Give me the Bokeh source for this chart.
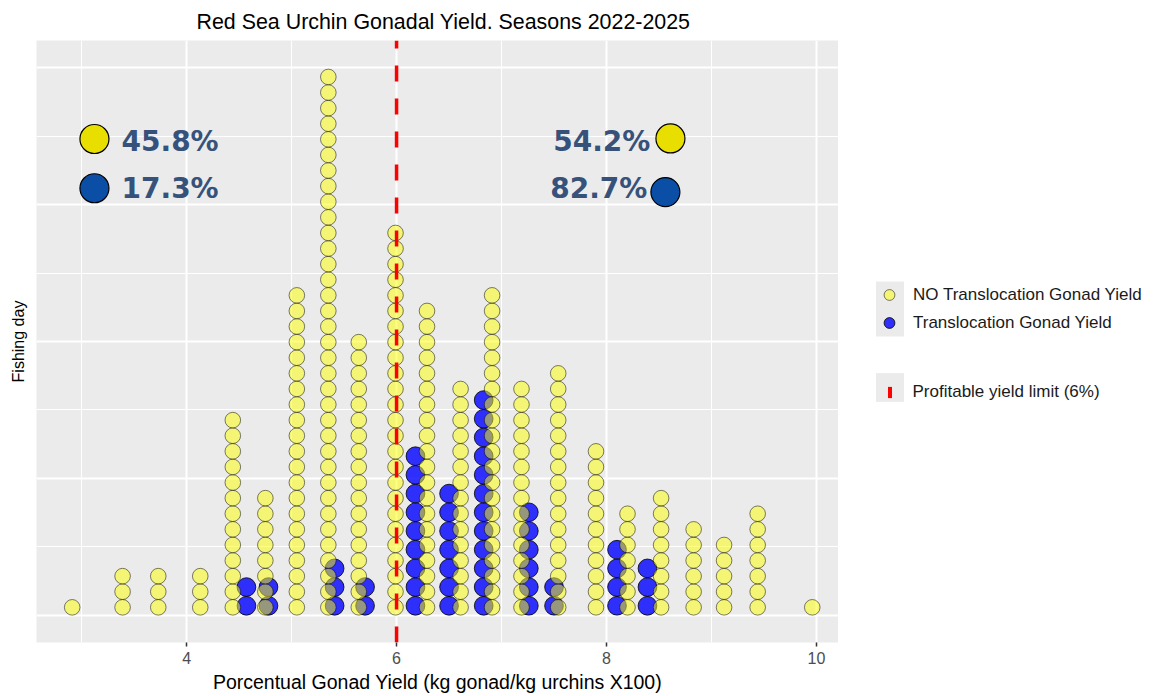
from bokeh.plotting import figure
from bokeh.layouts import row
from bokeh.models import FixedTicker, Legend, LegendItem, Range1d
from bokeh.core.properties import value
from bokeh.embed import file_html
from bokeh.resources import INLINE

# ---------------- data ----------------
TITLE = "Red Sea Urchin Gonadal Yield. Seasons 2022-2025"
X_LABEL = "Porcentual Gonad Yield (kg gonad/kg urchins X100)"
Y_LABEL = "Fishing day"

NO_TRANS_LABEL = "NO Translocation Gonad Yield"
NO_TRANS_BINS = [2.91, 3.39, 3.73, 4.13, 4.44, 4.75, 5.05, 5.35, 5.64, 5.99, 6.29,
                 6.61, 6.91, 7.19, 7.54, 7.90, 8.20, 8.52, 8.83, 9.12, 9.44, 9.96]
NO_TRANS_COUNTS = [1, 3, 3, 3, 13, 8, 21, 35, 18, 25, 20,
                   15, 21, 15, 16, 11, 7, 8, 6, 5, 7, 1]

TRANS_LABEL = "Translocation Gonad Yield"
TRANS_BINS = [4.57, 4.78, 5.41, 5.70, 6.18, 6.50, 6.83, 7.26, 7.50, 8.10, 8.39]
TRANS_COUNTS = [2, 2, 3, 2, 9, 7, 12, 6, 2, 4, 3]

LIMIT_LABEL = "Profitable yield limit (6%)"
PROFIT_LIMIT = 6.0

X_TICKS = [4, 6, 8, 10]
X_MINOR = [3, 5, 7, 9]
Y_TICKS = [0, 0.25, 0.5, 0.75, 1.0]
Y_MINOR = [0.125, 0.375, 0.625, 0.875]

SHARE_BELOW = ["45.8%", "17.3%"]   # share of yields below the limit (NO transl., transl.)
SHARE_ABOVE = ["54.2%", "82.7%"]   # share of yields above the limit

# ---------------- styles / layout ----------------
FONT = "Liberation Sans"
TOTAL_W, TOTAL_H = 1156, 694
LEFT, TOP = 36, 40
FRAME_W, FRAME_H = 802, 602
MAIN_W = LEFT + FRAME_W
LEG_W = TOTAL_W - MAIN_W
FRAME_BOTTOM = TOP + FRAME_H
X_RANGE = (2.57, 10.21)
Y_RANGE = (-0.05, 1.05)
Y_PX = FRAME_H / (Y_RANGE[1] - Y_RANGE[0])
YELLOW_D = 15.6
BLUE_D = 18.7
NAN = float("nan")

YELLOW_STYLE = dict(marker="circle", fill_color="yellow", fill_alpha=0.5,
                    line_color="black", line_alpha=0.5, line_width=1)
BLUE_STYLE = dict(marker="circle", fill_color="blue", fill_alpha=0.8,
                  line_color="black", line_alpha=0.8, line_width=1)


def stack(bins, counts, d_px):
    xs, ys = [], []
    for b, n in zip(bins, counts):
        for i in range(n):
            xs.append(b)
            ys.append((i + 0.5) * d_px / Y_PX)
    return xs, ys


p = figure(frame_width=FRAME_W, frame_height=FRAME_H,
           x_range=Range1d(*X_RANGE), y_range=Range1d(*Y_RANGE),
           output_backend="svg", toolbar_location=None,
           min_border_left=LEFT, min_border_right=0,
           min_border_top=TOP, min_border_bottom=40,
           background_fill_color="#EBEBEB", border_fill_color="white",
           outline_line_color=None, title=TITLE)

p.title.align = "left"
p.title.offset = 160
p.title.text_font = FONT
p.title.text_font_size = "21.4px"
p.title.text_font_style = "normal"
p.title.text_color = "black"
p.title.standoff = 14

# axes
xa = p.xaxis[0]
xa.ticker = FixedTicker(ticks=X_TICKS, minor_ticks=X_MINOR)
xa.axis_label = X_LABEL
xa.axis_label_text_font = FONT
xa.axis_label_text_font_size = "19.5px"
xa.axis_label_text_font_style = "normal"
xa.axis_label_text_color = "black"
xa.axis_label_standoff = 4
xa.major_label_text_font = FONT
xa.major_label_text_font_size = "16px"
xa.major_label_text_color = "#4D4D4D"
xa.major_label_standoff = 5
xa.major_tick_out = 4
xa.major_tick_in = 0
xa.major_tick_line_color = "#333333"
xa.major_tick_line_width = 1.5
xa.minor_tick_out = 0
xa.minor_tick_in = 0
xa.axis_line_color = None

ya = p.yaxis[0]
ya.ticker = FixedTicker(ticks=[], minor_ticks=[])
ya.axis_label = Y_LABEL
ya.axis_label_text_font = FONT
ya.axis_label_text_font_size = "16px"
ya.axis_label_text_font_style = "normal"
ya.axis_label_text_color = "black"
ya.axis_label_standoff = 10
ya.major_tick_out = 0
ya.major_tick_in = 0
ya.minor_tick_out = 0
ya.minor_tick_in = 0
ya.axis_line_color = None

p.xgrid[0].ticker = FixedTicker(ticks=X_TICKS, minor_ticks=X_MINOR)
p.ygrid[0].ticker = FixedTicker(ticks=Y_TICKS, minor_ticks=Y_MINOR)
for g in (p.xgrid[0], p.ygrid[0]):
    g.grid_line_color = "white"
    g.grid_line_width = 2
    g.minor_grid_line_color = "white"
    g.minor_grid_line_width = 1

# dot stacks
bx, by = stack(TRANS_BINS, TRANS_COUNTS, BLUE_D)
p.scatter(x=bx, y=by, size=BLUE_D, **BLUE_STYLE)
yx, yy = stack(NO_TRANS_BINS, NO_TRANS_COUNTS, YELLOW_D)
p.scatter(x=yx, y=yy, size=YELLOW_D, **YELLOW_STYLE)

# profitable limit line
LIMIT_COLOR = "#FF0000"
p.segment(x0=[PROFIT_LIMIT], y0=[Y_RANGE[0]], x1=[PROFIT_LIMIT], y1=[Y_RANGE[1]],
          line_color=LIMIT_COLOR, line_width=3.5, line_dash="16 17")

# share annotations
ANN_YELLOW = "#E8DF00"
ANN_BLUE = "#0B4EA6"
ANN_TEXT = "#37527A"
p.scatter(x=[3.122, 3.122], y=[0.870, 0.780], size=29, marker="circle",
          fill_color=[ANN_YELLOW, ANN_BLUE], line_color="black", line_width=1.2)
p.text(x=[3.38, 3.38], y=[0.866, 0.780], text=SHARE_BELOW,
       text_font=value("DejaVu Sans"), text_font_style="bold", text_font_size="28px",
       text_color=ANN_TEXT, text_align="left", text_baseline="middle")
p.text(x=[8.418, 8.389], y=[0.866, 0.779], text=SHARE_ABOVE,
       text_font=value("DejaVu Sans"), text_font_style="bold", text_font_size="28px",
       text_color=ANN_TEXT, text_align="right", text_baseline="middle")
p.scatter(x=[8.609, 8.561], y=[0.871, 0.773], size=29, marker="circle",
          fill_color=[ANN_YELLOW, ANN_BLUE], line_color="black", line_width=1.2)

# ---------------- legend panel (separate figure on the right) ----------------
lg = figure(width=LEG_W, height=TOTAL_H, x_range=Range1d(0, 1), y_range=Range1d(0, 1),
            x_axis_type=None, y_axis_type=None, output_backend="svg",
            toolbar_location=None, outline_line_color=None,
            background_fill_color="white", border_fill_color="white",
            min_border_left=0, min_border_right=0, min_border_top=0, min_border_bottom=0)
lg.xgrid.visible = False
lg.ygrid.visible = False

# legend proxies: one undrawable (NaN) point each, so the legend can draw their keys
bg_r = lg.quad(left=[NAN], right=[NAN], top=[NAN], bottom=[NAN],
               fill_color="#EBEBEB", line_color=None)
red_r = lg.quad(left=[NAN], right=[NAN], top=[NAN], bottom=[NAN],
                fill_color=LIMIT_COLOR, line_color=None)
yel_r = lg.scatter(x=[NAN], y=[NAN], **YELLOW_STYLE)
blu_r = lg.scatter(x=[NAN], y=[NAN], **BLUE_STYLE)


def mk_legend(items, page_x, page_bottom, gw, gh, standoff, spacing=0):
    return Legend(items=items, location=(page_x - MAIN_W, FRAME_BOTTOM - page_bottom),
                  glyph_width=gw, glyph_height=gh, label_height=gh,
                  label_standoff=standoff, spacing=spacing,
                  padding=0, margin=0, border_line_color=None, background_fill_alpha=0,
                  label_text_font=FONT, label_text_font_size="17px",
                  label_text_color="#1A1A1A")


# gray key backgrounds (area glyphs fill 80% of the key box)
lg.add_layout(mk_legend([LegendItem(label=" ", renderers=[bg_r])], 871.5, 343.9, 35, 69, 0))
lg.add_layout(mk_legend([LegendItem(label=" ", renderers=[bg_r])], 871.5, 405.6, 35, 36, 0))
# fill legend
lg.add_layout(mk_legend([LegendItem(label=NO_TRANS_LABEL, renderers=[yel_r]),
                         LegendItem(label=TRANS_LABEL, renderers=[blu_r])],
                        875, 337, 28, 27, 10, spacing=1))
# limit legend
lg.add_layout(mk_legend([LegendItem(label=LIMIT_LABEL, renderers=[red_r])],
                        886.5, 402.5, 5, 14, 21))

layout = row(p, lg)
open("out.html", "w").write(file_html(layout, INLINE))
